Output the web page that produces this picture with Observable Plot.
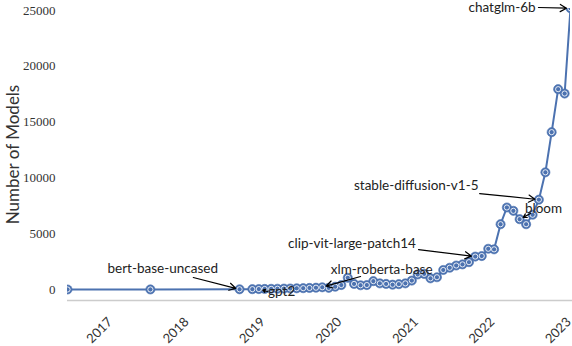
<!DOCTYPE html>
<html><head><meta charset="utf-8">
<script src="https://cdn.jsdelivr.net/npm/d3@7"></script>
<script src="https://cdn.jsdelivr.net/npm/@observablehq/plot@0.6"></script>
<style>body{margin:0;background:#fff}</style>
</head><body><div id="chart"></div>
<script>
// Monthly snapshots (YYYY-MM) and number of models
const months = [
  "2016-08","2017-09","2018-11","2019-01","2019-02","2019-03","2019-04","2019-05","2019-06","2019-07",
  "2019-08","2019-09","2019-10","2019-11","2019-12","2020-01","2020-02","2020-03","2020-04","2020-05",
  "2020-06","2020-07","2020-08","2020-09","2020-10","2020-11","2020-12","2021-01","2021-02","2021-03",
  "2021-04","2021-05","2021-06","2021-07","2021-08","2021-09","2021-10","2021-11","2021-12","2022-01",
  "2022-02","2022-03","2022-04","2022-05","2022-06","2022-07","2022-08","2022-09","2022-10","2022-11",
  "2022-12","2023-01","2023-02","2023-03"
];
const counts = [
  2,5,20,30,40,50,60,70,80,90,
  110,120,140,160,200,150,250,400,1050,500,
  380,400,750,550,500,430,480,550,800,1350,
  1400,1000,1100,1750,1950,2150,2250,2450,2950,3000,
  3650,3600,5850,7350,7050,6300,5850,6700,8050,10500,
  14100,17950,17560,25200
];
const yTicks = [0, 5000, 10000, 15000, 20000, 25000];
const xTickYears = ["2017","2018","2019","2020","2021","2022","2023"];

// Annotations: label, annotated month, text centre (date, value), arrow tail (date, value)
const annLabels     = ["bert-base-uncased","gpt2","xlm-roberta-base","clip-vit-large-patch14","stable-diffusion-v1-5","bloom","chatglm-6b"];
const annMonths     = ["2018-11","2019-02","2019-12","2021-12","2022-10","2022-07","2023-03"];
const annTextDate   = ["2017-10-30","2019-05-21","2020-09-10","2020-04-21","2021-02-22","2022-10-23","2022-04-08"];
const annTextValue  = [1880,-200,1790,4120,9320,7260,25270];
const annTailDate   = ["2018-03-25","2019-03-14","2020-06-01","2021-03-05","2021-12-22","2022-08-22","2022-09-29"];
const annTailValue  = [1075,-180,1165,3580,8600,6810,25270];

const data = months.map((m, i) => ({date: new Date(m + "-01"), count: counts[i]}));
const byMonth = new Map(months.map((m, i) => [m, counts[i]]));
const ann = annLabels.map((l, i) => ({
  label: l,
  x: new Date(annMonths[i] + "-01"), y: byMonth.get(annMonths[i]),
  tx: new Date(annTextDate[i]), ty: annTextValue[i],
  ax: new Date(annTailDate[i]), ay: annTailValue[i]
}));

const blue = "#4C72B0";
const chart = Plot.plot({
  width: 572, height: 346,
  marginLeft: 67, marginRight: 2, marginTop: 8, marginBottom: 46,
  x: {type: "utc", domain: [data[0].date, data[data.length - 1].date]},
  y: {domain: [-985, 25180]},
  style: {fontFamily: "Lato", background: "white", color: "#333"},
  marks: [
    Plot.ruleY([-985], {stroke: "#cccccc", strokeWidth: 1.5, insetRight: -2}),
    Plot.axisY({ticks: [], tickSize: 0, label: "Number of Models", labelAnchor: "center", labelArrow: "none",
      labelOffset: 61, fontSize: 17, fontFamily: "Lato"}),
    Plot.axisX({ticks: [], label: null, tickSize: 0}),
    Plot.text(yTicks, {y: d => d, frameAnchor: "left", dx: -12, textAnchor: "end", text: d => String(d),
      fontFamily: "Liberation Serif", fontSize: 13, fill: "#333"}),
    Plot.text(xTickYears, {x: d => new Date(d + "-01-01"), frameAnchor: "bottom", dy: 30, rotate: -45,
      text: d => d, fontSize: 13, fill: "#333", textAnchor: "middle", lineAnchor: "middle"}),
    Plot.line(data, {x: "date", y: "count", stroke: blue, strokeWidth: 2, clip: true}),
    Plot.dot(data, {x: "date", y: "count", r: 4.6, fill: blue, stroke: blue, strokeWidth: 0.6, clip: true}),
    Plot.dot(data, {x: "date", y: "count", r: 2.6, fill: "none", stroke: "white", strokeWidth: 1, strokeOpacity: 0.85, clip: true}),
    Plot.arrow(ann, {x1: "ax", y1: "ay", x2: "x", y2: "y", insetEnd: 4, stroke: "black", strokeWidth: 1.2, headLength: 9, bend: 0}),
    Plot.text(ann, {x: "tx", y: "ty", text: "label", fontSize: 13.5, fill: "#222", lineAnchor: "middle"})
  ]
});
document.getElementById("chart").appendChild(chart);
</script>
</body></html>
